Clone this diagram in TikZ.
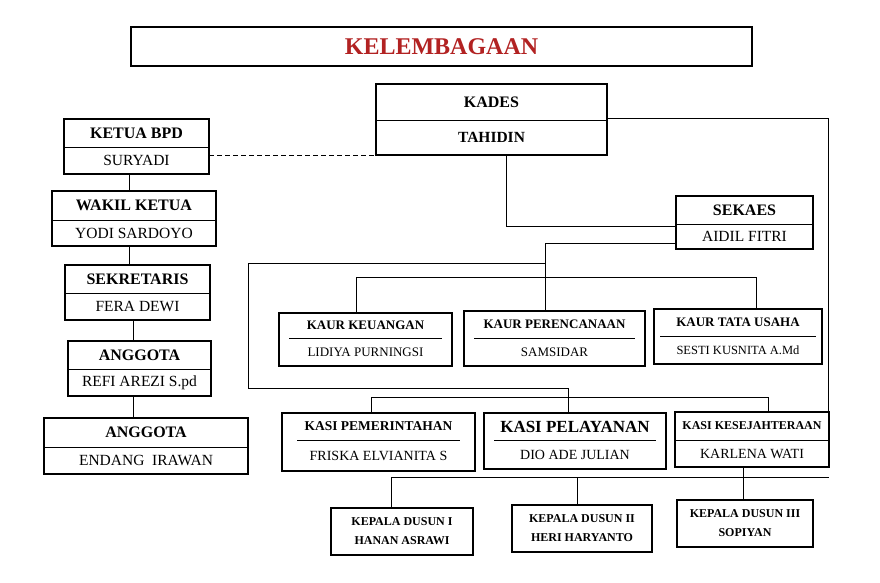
\documentclass[tikz,border=0pt]{standalone}
\usepackage{fontspec}
\setmainfont{Liberation Serif}
\begin{document}
\begin{tikzpicture}[x=1pt,y=-1pt,
  box/.style={draw,line width=1.1pt,inner sep=0pt},
  ln/.style={line width=1pt},
  ttl/.style={font=\bfseries\fontsize{16}{18}\selectfont},
  sm/.style={font=\fontsize{15.5}{18}\selectfont}]
\useasboundingbox[fill=white] (0,0) rectangle (880,582);
\newcommand{\tbox}[9]{%
  \node[box,minimum width={#4-#2},minimum height={#5-#3}] (#1) at ({(#2+#4)/2},{(#3+#5)/2}) {};
  \draw[ln] ({#2+#9},#6) -- ({#4-#9},#6);
  \node[ttl] (#1t) at ({(#2+#4)/2},{(#3+#6)/2}) {#7};
  \node[sm] (#1b) at ({(#2+#4)/2},{(#6+#5)/2}) {#8};}
\node[box,minimum width=621,minimum height=39] (title) at (441.5,46.5)
  {\textcolor[HTML]{B22222}{\bfseries\fontsize{24}{26}\selectfont KELEMBAGAAN}};
\tbox{kades}{376}{84}{607}{155}{120}{KADES}{\bfseries TAHIDIN}{0}
\tbox{bpd}{64}{119}{209}{174}{147}{KETUA BPD}{SURYADI}{0}
\tbox{wakil}{52}{191}{216}{246}{220}{WAKIL KETUA}{YODI SARDOYO}{0}
\tbox{sek}{65}{265}{210}{320}{293}{SEKRETARIS}{FERA DEWI}{0}
\tbox{ang}{68}{341}{211}{396}{369}{ANGGOTA}{REFI AREZI S.pd}{0}
\tbox{angb}{44}{418}{248}{474}{447}{ANGGOTA}{ENDANG\ \ IRAWAN}{0}
\tbox{sekaes}{676}{196}{813}{249}{224}{SEKAES}{AIDIL FITRI}{0}
\tbox{kk}{279}{313}{452}{366}{338}{\fontsize{13}{15}\selectfont KAUR KEUANGAN}{\fontsize{13}{15}\selectfont LIDIYA PURNINGSI}{10}
\tbox{kp}{464}{311}{645}{366}{338}{\fontsize{13}{15}\selectfont KAUR PERENCANAAN}{\fontsize{13}{15}\selectfont SAMSIDAR}{10}
\tbox{kt}{654}{309}{822}{364}{336}{\fontsize{13}{15}\selectfont KAUR TATA USAHA}{\fontsize{12.5}{15}\selectfont SESTI KUSNITA A.Md}{6}
\tbox{ksp}{282}{413}{475}{471}{440}{\fontsize{13.5}{15}\selectfont KASI PEMERINTAHAN}{\fontsize{14}{15}\selectfont FRISKA ELVIANITA S}{15}
\tbox{kpl}{484}{413}{666}{469}{440}{\bfseries\fontsize{17}{19}\selectfont KASI PELAYANAN}{\fontsize{14}{15}\selectfont DIO ADE JULIAN}{10}
\tbox{kse}{675}{412}{829}{467}{440}{\fontsize{12}{14}\selectfont KASI KESEJAHTERAAN}{\fontsize{14}{15}\selectfont KARLENA WATI}{0}
\tikzset{dus/.style={box,minimum height=47,align=center,font=\bfseries\fontsize{12}{19}\selectfont}}
\node[dus,minimum width=142] (d1) at (402,531.5) {KEPALA DUSUN I\\HANAN ASRAWI};
\node[dus,minimum width=140] (d2) at (582,528.5) {KEPALA DUSUN II\\HERI HARYANTO};
\node[dus,minimum width=136] (d3) at (745,523.5) {KEPALA DUSUN III\\SOPIYAN};
\draw[ln] (129,174) -- (129,191);
\draw[ln] (129,246) -- (129,265);
\draw[ln] (133,320) -- (133,341);
\draw[ln] (133,396) -- (133,418);
\draw[ln,dash pattern=on 5pt off 3pt] (209,155) -- (376,155);
\draw[ln] (506,155) -- (506,226) -- (676,226);
\draw[ln] (607,118) -- (828,118) -- (828,412);
\draw[ln] (676,243) -- (545,243) -- (545,311);
\draw[ln] (545,263) -- (248,263) -- (248,388) -- (568,388) -- (568,413);
\draw[ln] (356,313) -- (356,277) -- (756,277) -- (756,309);
\draw[ln] (371,413) -- (371,397) -- (768,397) -- (768,412);
\draw[ln] (391,508) -- (391,477) -- (829,477);
\draw[ln] (577,477) -- (577,505);
\draw[ln] (743,467) -- (743,500);
\end{tikzpicture}
\end{document}
